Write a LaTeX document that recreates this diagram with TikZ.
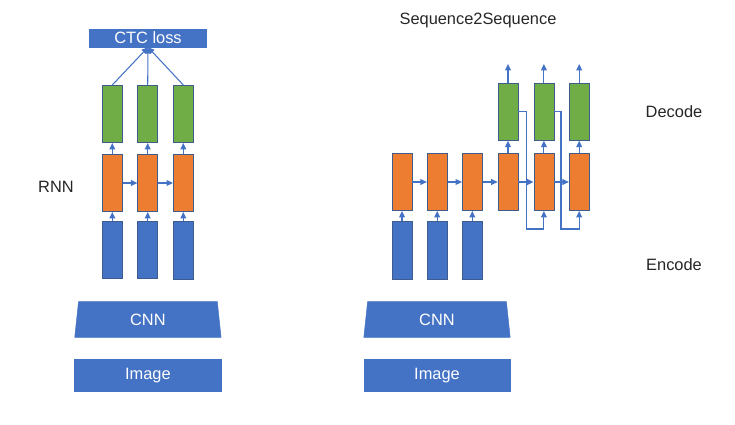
\documentclass[tikz,border=0pt]{standalone}
\usepackage{fontspec}
\setmainfont{Liberation Sans}
\usepackage{tikz}
\usetikzlibrary{arrows.meta,shapes.geometric,positioning}
\definecolor{cellBlue}{RGB}{68,114,196}
\definecolor{cellOrange}{RGB}{237,125,49}
\definecolor{cellGreen}{RGB}{112,173,71}
\definecolor{cellEdge}{RGB}{62,92,140}
\definecolor{labelGray}{RGB}{38,38,38}

\begin{document}
\begin{tikzpicture}[x=0.03cm,y=-0.03cm,
  cell/.style={rectangle,draw=cellEdge,line width=0.6pt,minimum width=0.6cm,minimum height=1.72cm,inner sep=0pt},
  enc/.style={cell,fill=cellBlue},
  rnn/.style={cell,fill=cellOrange},
  dec/.style={cell,fill=cellGreen},
  bar/.style={rectangle,fill=cellBlue,draw=cellBlue,text=white,inner sep=0pt,
              font=\fontsize{14}{16}\selectfont},
  cnn/.style={trapezium,trapezium angle=72,trapezium stretches body,fill=cellBlue,draw=cellBlue,
              text=white,inner sep=0pt,minimum width=4.39cm,minimum height=1.07cm,
              font=\fontsize{14}{16}\selectfont},
  lbl/.style={text=labelGray,font=\fontsize{14}{16}\selectfont},
  iface/.style={-{Triangle[length=5.5pt,width=5pt]},draw=cellBlue,line width=0.9pt}
]
  \useasboundingbox (0,0) rectangle (735,424);

  % CTC side
  \node[bar,minimum width=3.51cm,minimum height=0.54cm] (ctc) at (148,38) {CTC loss};
  \node[enc] (b1) at (112.3,250) {};
  \node[enc] (b2) at (147.7,250) {};
  \node[enc] (b3) at (183.3,250.5) {};
  \node[rnn] (r1) at (112.3,183) {};
  \node[rnn] (r2) at (147.7,183) {};
  \node[rnn] (r3) at (183.3,183) {};
  \node[dec] (g1) at (112.3,114) {};
  \node[dec] (g2) at (147.7,114) {};
  \node[dec] (g3) at (183.3,114) {};
  \node[cnn] (cnnA) at (147.9,319.5) {CNN};
  \node[bar,minimum width=4.39cm,minimum height=0.98cm] (imgA) at (147.9,375.3) {Image};
  \node[lbl] (rnnlbl) at (56,187) {RNN};

  \draw[iface](b1)--(r1);
  \draw[iface](b2)--(r2);
  \draw[iface](b3)--(r3);
  \draw[iface](r1)--(g1);
  \draw[iface](r2)--(g2);
  \draw[iface](r3)--(g3);
  \draw[iface](r1)--(r2);
  \draw[iface](r2)--(r3);
  \draw[iface](g1.north)--(ctc.south);
  \draw[iface](g2.north)--(ctc.south);
  \draw[iface](g3.north)--(ctc.south);

  % Seq2Seq side
  \node[lbl] (s2s) at (478,20) {Sequence2Sequence};
  \node[lbl] (declbl) at (674,112) {Decode};
  \node[lbl] (enclbl) at (674,265) {Encode};
  \node[enc] (e1) at (402,250.3) {};
  \node[enc] (e2) at (437.2,250.3) {};
  \node[enc] (e3) at (472.3,250.3) {};
  \node[rnn] (o1) at (402,182) {};
  \node[rnn] (o2) at (437.2,182) {};
  \node[rnn] (o3) at (472.3,182) {};
  \node[rnn] (o4) at (508,182) {};
  \node[rnn] (o5) at (543.9,182) {};
  \node[rnn] (o6) at (579.2,182) {};
  \node[dec] (d4) at (508,111.7) {};
  \node[dec] (d5) at (543.9,111.7) {};
  \node[dec] (d6) at (579.2,111.7) {};
  \node[cnn] (cnnB) at (437,319.5) {CNN};
  \node[bar,minimum width=4.38cm,minimum height=0.98cm] (imgB) at (437,375.3) {Image};
  \coordinate (out4) at (508,64);
  \coordinate (out5) at (543.9,64);
  \coordinate (out6) at (579.2,64);
  \coordinate (loop4) at (526.7,229);
  \coordinate (loop5) at (561,229);

  \draw[iface](e1)--(o1);
  \draw[iface](e2)--(o2);
  \draw[iface](e3)--(o3);
  \draw[iface](o1)--(o2);
  \draw[iface](o2)--(o3);
  \draw[iface](o3)--(o4);
  \draw[iface](o4)--(o5);
  \draw[iface](o5)--(o6);
  \draw[iface](o4)--(d4);
  \draw[iface](o5)--(d5);
  \draw[iface](o6)--(d6);
  \draw[iface](d4)--(out4);
  \draw[iface](d5)--(out5);
  \draw[iface](d6)--(out6);
  \draw[iface](d4.east)-|(loop4)-|(o5.south);
  \draw[iface](d5.east)-|(loop5)-|(o6.south);
\end{tikzpicture}
\end{document}
